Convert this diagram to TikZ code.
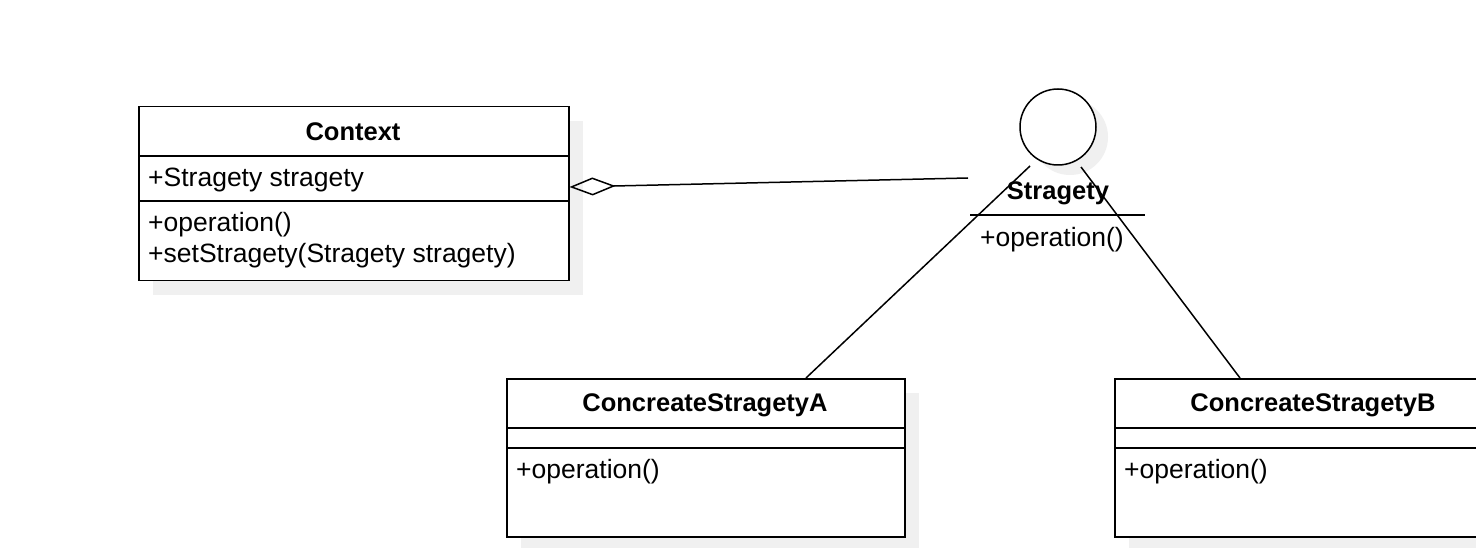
\documentclass[tikz,border=0pt]{standalone}
\usepackage{fontspec}
\setmainfont{Liberation Sans}
\usetikzlibrary{arrows.meta,shadows,calc}
\tikzset{
  umlbox/.style={draw, fill=white, line width=1.5pt, inner sep=0pt, anchor=north west,
    drop shadow={shadow xshift=14pt, shadow yshift=-14pt, fill=black!6, opacity=1}},
  umltitle/.style={font=\fontsize{25.5}{31}\selectfont\bfseries, inner sep=0pt},
  umltext/.style={font=\fontsize{26.5}{31}\selectfont, inner sep=0pt, anchor=west},
  conn/.style={line width=1.5pt},
  divider/.style={line width=1.5pt}
}
\begin{document}
\begin{tikzpicture}[x=1pt,y=-1pt]
\useasboundingbox (0,0) rectangle (1476,548);
\clip (0,0) rectangle (1476,548);
\fill[white] (0,0) rectangle (1476,548);

% Context
\node[umlbox, minimum width=430pt, minimum height=174pt] (ctx) at (138,106) {};
\draw[divider] (138,156) -- (568,156);
\draw[divider] (138,201) -- (568,201);
\node[umltitle] (ctxT) at (353,132) {Context};
\node[umltext] (ctxA) at (148,179.5) {+Stragety stragety};
\node[umltext] (ctxM1) at (148,224.5) {+operation()};
\node[umltext] (ctxM2) at (148,255.5) {+setStragety(Stragety stragety)};

% Stragety interface
\fill[black!6] (1070,137) circle (38pt);
\node[draw, fill=white, circle, line width=1.5pt, minimum size=76pt, inner sep=0pt] (strat) at (1058,127) {};
\node[umltitle] (stratT) at (1058,193) {Stragety};
\draw[divider] (970,215) -- (1145,215);
\node[umltext] (stratM) at (980,239.5) {+operation()};

% ConcreateStragetyA
\node[umlbox, minimum width=398pt, minimum height=158pt] (ca) at (506,378) {};
\draw[divider] (506,428) -- (904,428);
\draw[divider] (506,448) -- (904,448);
\node[umltitle] (caT) at (705,405) {ConcreateStragetyA};
\node[umltext] (caM) at (516,471.5) {+operation()};

% ConcreateStragetyB
\node[umlbox, minimum width=398pt, minimum height=158pt] (cb) at (1114,378) {};
\draw[divider] (1114,428) -- (1512,428);
\draw[divider] (1114,448) -- (1512,448);
\node[umltitle] (cbT) at (1313,405) {ConcreateStragetyB};
\node[umltext] (cbM) at (1124,471.5) {+operation()};

% connectors
\coordinate (aggS) at (ctx.east |- 0,187);
\coordinate (aggE) at (968,178);
\draw[conn, {Diamond[open, length=46pt, width=18pt, line width=1.5pt]}-] (aggS) -- (aggE);
\coordinate (sa) at (1030,166);
\coordinate (sb) at (1081,167);
\coordinate (ea) at (806,378);
\coordinate (eb) at (1240,378);
\draw[conn] (sa) -- (ea);
\draw[conn] (sb) -- (eb);
\end{tikzpicture}
\end{document}
